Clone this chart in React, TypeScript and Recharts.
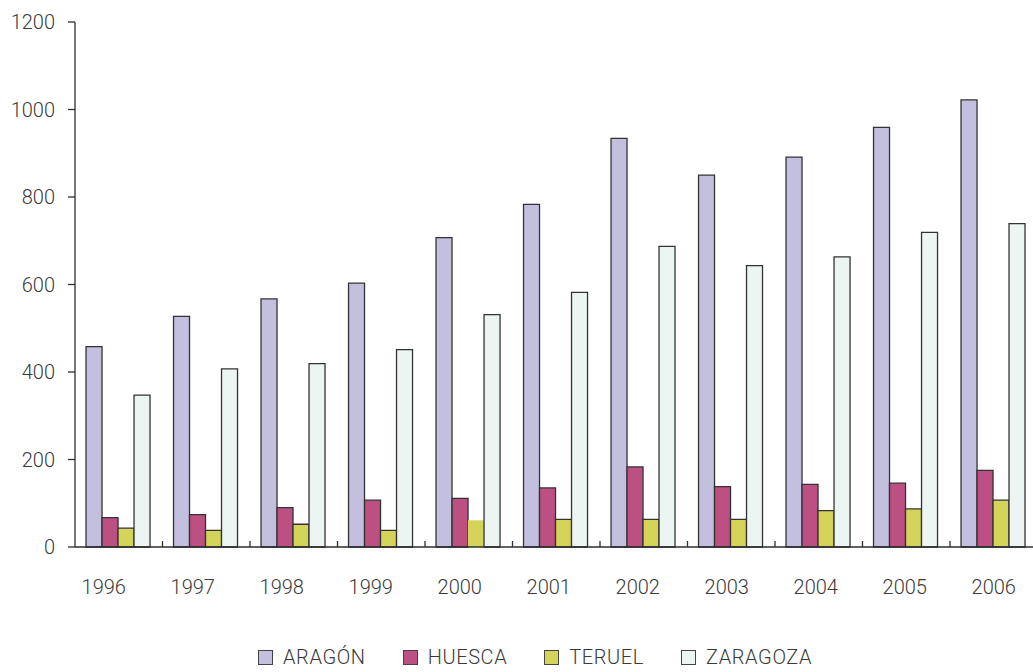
import React from 'react';
import { BarChart, Bar, XAxis, YAxis, Cell } from 'recharts';

// Yearly figures per territory
const YEARS = ['1996', '1997', '1998', '1999', '2000', '2001', '2002', '2003', '2004', '2005', '2006'];
const ARAGON = [458, 527, 567, 603, 707, 783, 934, 850, 891, 959, 1022];
const HUESCA = [67, 74, 90, 107, 111, 135, 183, 138, 143, 146, 175];
const TERUEL = [43, 38, 52, 38, 61, 63, 63, 63, 83, 87, 107];
const ZARAGOZA = [347, 407, 419, 451, 531, 582, 687, 643, 663, 719, 739];
const Y_TICKS = [0, 200, 400, 600, 800, 1000, 1200];

const SERIES = [
  { key: 'aragon', name: 'ARAGÓN', values: ARAGON, color: '#c2bfdf' },
  { key: 'huesca', name: 'HUESCA', values: HUESCA, color: '#bc5083' },
  { key: 'teruel', name: 'TERUEL', values: TERUEL, color: '#d4d45a' },
  { key: 'zaragoza', name: 'ZARAGOZA', values: ZARAGOZA, color: '#edf5f3' },
];

const data = YEARS.map((year, i) => {
  const row: Record<string, string | number> = { year };
  SERIES.forEach(s => { row[s.key] = s.values[i]; });
  return row;
});

const FONT = 'Roboto, "Open Sans", sans-serif';
const TEXT = '#3a3a3a';
const LINE = '#2e2e2e';

const WIDTH = 1040;
const HEIGHT = 672;
const LEFT = 75;
const RIGHT_PAD = 2.5;
const BAND = (WIDTH - LEFT - RIGHT_PAD) / YEARS.length;

// year label plus a short upward tick on the left edge of each category
const YearTick = (props: any) => {
  const { x, y, payload, index } = props;
  const dx = -(YEARS.length - 1 - index) * 1.5;
  return (
    <g>
      {index > 0 && (
        <line x1={x - BAND / 2} x2={x - BAND / 2} y1={y - 6} y2={y} stroke={LINE} strokeWidth={1.3} />
      )}
      <text x={x + dx} y={y} dy={47} textAnchor="middle" fill={TEXT} fontSize={20} fontFamily={FONT} fontWeight={300}>
        {payload.value}
      </text>
    </g>
  );
};

const App = () => {
  return (
    <div style={{ position: 'fixed', left: 0, top: 0, width: 1033, height: 672, overflow: 'hidden', background: '#fff' }}>
      <BarChart
        width={WIDTH}
        height={HEIGHT}
        data={data}
        margin={{ top: 22, right: RIGHT_PAD, left: 0, bottom: 65 }}
        barGap={0}
        barCategoryGap="12.6%"
      >
        <XAxis
          dataKey="year"
          height={60}
          axisLine={{ stroke: LINE, strokeWidth: 1.3 }}
          tickLine={false}
          tickSize={0}
          tickMargin={0}
          interval={0}
          tick={<YearTick />}
        />
        <YAxis
          width={LEFT}
          domain={[0, 1200]}
          ticks={Y_TICKS}
          interval={0}
          axisLine={{ stroke: LINE, strokeWidth: 1.3 }}
          tickLine={{ stroke: LINE, strokeWidth: 1.3 }}
          tickSize={7}
          tickMargin={13}
          tick={{ fill: TEXT, fontSize: 20, fontFamily: FONT, fontWeight: 300 }}
        />
        {SERIES.map(s => (
          <Bar
            key={s.key}
            dataKey={s.key}
            name={s.name}
            fill={s.color}
            stroke="#333"
            strokeWidth={1.3}
            isAnimationActive={false}
          >
            {YEARS.map((year, i) => (
              <Cell key={year} stroke={s.key === 'teruel' && year === '2000' ? 'none' : '#333'} />
            ))}
          </Bar>
        ))}
      </BarChart>

      <div
        style={{
          position: 'absolute',
          left: 258,
          top: 646,
          display: 'flex',
          alignItems: 'center',
          gap: 37,
          fontFamily: FONT,
          fontWeight: 300,
          fontSize: 20,
          letterSpacing: 0.6,
          color: TEXT,
        }}
      >
        {SERIES.map(s => (
          <div key={s.key} style={{ display: 'flex', alignItems: 'center' }}>
            <span
              style={{
                display: 'inline-block',
                width: 13,
                height: 13,
                background: s.color,
                border: '1px solid #444',
                marginRight: 10,
              }}
            />
            <span style={{ lineHeight: '22px' }}>{s.name}</span>
          </div>
        ))}
      </div>
    </div>
  );
};

export default App;
